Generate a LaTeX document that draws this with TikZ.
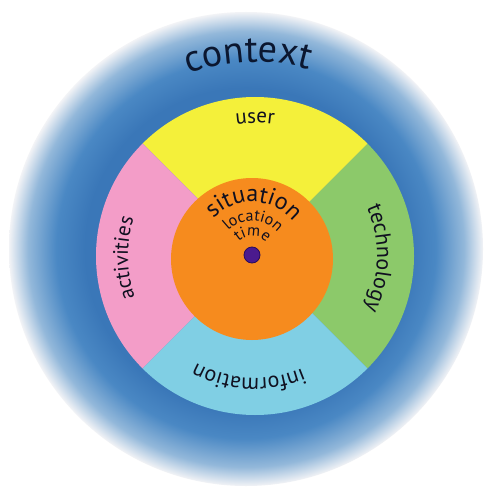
\documentclass[tikz,border=0pt]{standalone}
\usepackage{fontspec}
\setmainfont{PT Sans}
\usetikzlibrary{decorations.text}
\definecolor{ctxA}{HTML}{3A77B8}
\definecolor{ctxB}{HTML}{4A88C4}
\definecolor{ctxC}{HTML}{93B8DA}
\definecolor{ctxD}{HTML}{F2F3F6}
\definecolor{userY}{HTML}{F4F03A}
\definecolor{techG}{HTML}{8CC96A}
\definecolor{infoC}{HTML}{80CFE4}
\definecolor{actP}{HTML}{F39DC8}
\definecolor{sitO}{HTML}{F68B1E}
\definecolor{dotP}{HTML}{4B1A8E}
\definecolor{dotE}{HTML}{2A0B5C}
\definecolor{ink}{HTML}{101020}
\definecolor{navy}{HTML}{0B1730}
\pgfdeclareradialshading{ctxshade}{\pgfpoint{0bp}{0bp}}{color(0bp)=(ctxA); color(17bp)=(ctxA); color(20bp)=(ctxB); color(23bp)=(ctxC); color(25bp)=(ctxD); color(50bp)=(ctxD)}
\tikzset{
  curvetext/.style n args={3}{decorate, decoration={text along path, text align=center,
     text={|\fontsize{#1}{#1}\selectfont\color{#2}|#3}}},
  sector/.style={fill=#1}
}
\begin{document}
\begin{tikzpicture}[x=1pt,y=1pt]
\useasboundingbox[fill=white] (0,-492) rectangle (485,0);
\coordinate (O) at (246,-249);
\coordinate (C) at (255,-256);
\coordinate (S) at (252,-259);
\coordinate (D) at (252,-255);
% context halo
\shade[shading=ctxshade] (O) circle[radius=237pt];
% ring sectors
\fill[sector=techG] (C) -- ++(-45:159pt) arc[start angle=-45,end angle=45,radius=159pt] -- cycle;
\fill[sector=userY] (C) -- ++(45:159pt) arc[start angle=45,end angle=135,radius=159pt] -- cycle;
\fill[sector=actP] (C) -- ++(135:159pt) arc[start angle=135,end angle=225,radius=159pt] -- cycle;
\fill[sector=infoC] (C) -- ++(225:159pt) arc[start angle=225,end angle=315,radius=159pt] -- cycle;
% situation core
\fill[sitO] (S) circle[radius=81pt];
\filldraw[fill=dotP, draw=dotE, line width=0.8pt] (D) circle[radius=8pt];
% curved labels
\path[curvetext={38pt}{navy}{context}] ([shift={(152:194pt)}]C) arc[start angle=152,end angle=32,radius=194pt];
\path[curvetext={21pt}{ink}{user}] ([shift={(150:133pt)}]C) arc[start angle=150,end angle=30,radius=133pt];
\path[curvetext={21pt}{ink}{activities}] ([shift={(241:127pt)}]C) arc[start angle=241,end angle=121,radius=127pt];
\path[curvetext={22pt}{ink}{technology}] ([shift={(59:122pt)}]C) arc[start angle=59,end angle=-61,radius=122pt];
\path[curvetext={22pt}{ink}{information}] ([shift={(327:122pt)}]C) arc[start angle=327,end angle=207,radius=122pt];
\path[curvetext={24pt}{ink}{situation}] ([shift={(178:53pt)}]D) arc[start angle=178,end angle=-2,radius=53pt];
\path[curvetext={16pt}{ink}{location}] ([shift={(178:34pt)}]D) arc[start angle=178,end angle=-2,radius=34pt];
\path[curvetext={16pt}{ink}{time}] ([shift={(178:19pt)}]D) arc[start angle=178,end angle=-2,radius=19pt];
\end{tikzpicture}
\end{document}
